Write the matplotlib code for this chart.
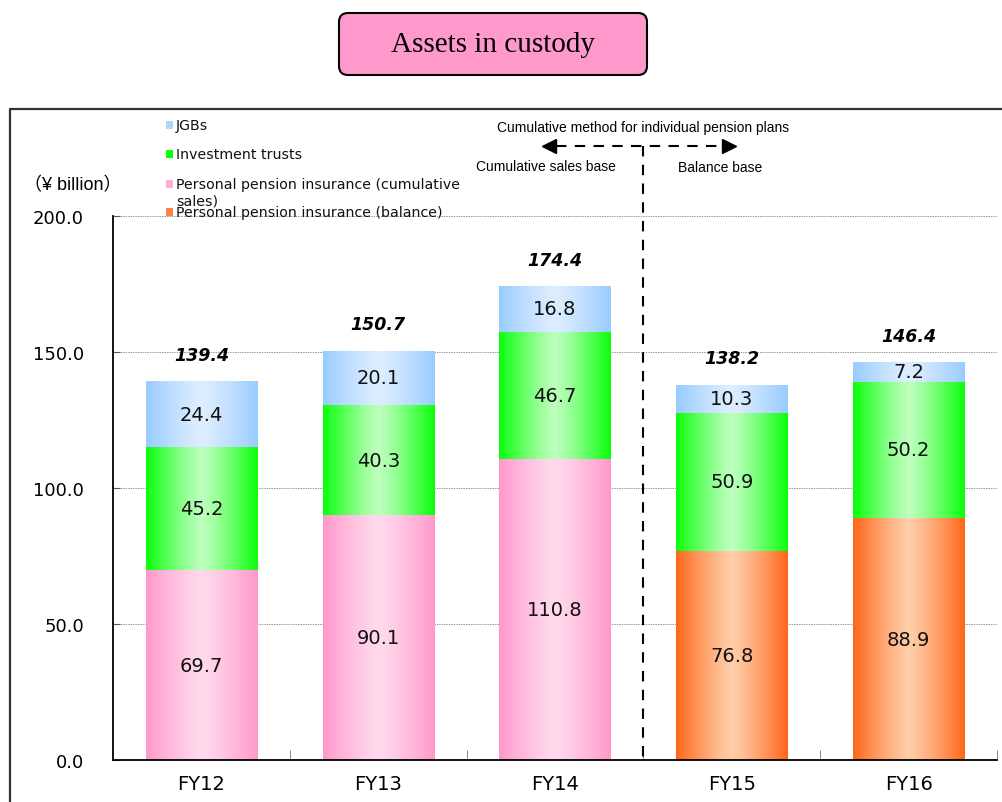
import numpy as np
import matplotlib
matplotlib.use("Agg")
import matplotlib.pyplot as plt
from matplotlib.patches import FancyBboxPatch, Rectangle
from matplotlib.lines import Line2D

# data (¥ billion)
years = ["FY12", "FY13", "FY14", "FY15", "FY16"]
pension_cum = [69.7, 90.1, 110.8, 0.0, 0.0]
pension_bal = [0.0, 0.0, 0.0, 76.8, 88.9]
inv_trusts = [45.2, 40.3, 46.7, 50.9, 50.2]
jgbs = [24.4, 20.1, 16.8, 10.3, 7.2]
totals = [139.4, 150.7, 174.4, 138.2, 146.4]

series_names = ["JGBs", "Investment trusts",
                "Personal pension insurance (cumulative\nsales)",
                "Personal pension insurance (balance)"]

# (edge colour, centre colour) for the horizontal gradient
C_BLUE = ((153, 204, 255), (222, 238, 255))
C_GREEN = ((10, 255, 10), (190, 255, 190))
C_PINK = ((255, 153, 204), (255, 218, 236))
C_ORANGE = ((255, 102, 25), (255, 206, 170))

fig = plt.figure(figsize=(10.02, 8.03), dpi=100)
W, H = 1002, 803
ax = fig.add_axes([113 / W, 1 - 761 / H, (997 - 113) / W, (761 - 217) / H])

x = np.arange(len(years))
bw = 0.63


def gradient_bar(patch, cols):
    edge = np.array(cols[0]) / 255
    centre = np.array(cols[1]) / 255
    x0, y0 = patch.get_xy()
    w, h = patch.get_width(), patch.get_height()
    if h <= 0:
        return
    t = np.linspace(0, 1, 256)
    prof = np.abs(2 * t - 1) ** 1.2
    rgb = centre + (edge - centre) * prof[:, None]
    im = ax.imshow(rgb[None, :, :], extent=(x0, x0 + w, y0, y0 + h),
                   aspect="auto", interpolation="bilinear", zorder=2)
    im.set_clip_path(patch)
    patch.set_facecolor("none")


bottom = np.zeros(len(years))
stack = [(pension_cum, C_PINK), (pension_bal, C_ORANGE),
         (inv_trusts, C_GREEN), (jgbs, C_BLUE)]
for vals, cols in stack:
    vals = np.array(vals)
    bars = ax.bar(x, vals, bw, bottom=bottom, linewidth=0, zorder=2)
    for b in bars:
        gradient_bar(b, cols)
    for xi, v, b0 in zip(x, vals, bottom):
        if v > 0:
            ax.text(xi, b0 + v / 2, f"{v:.1f}", ha="center", va="center",
                    fontsize=14, color="#111111", zorder=4)
    bottom = bottom + vals

for xi, top, tot in zip(x, bottom, totals):
    ax.annotate(f"{tot:.1f}", (xi, top), xytext=(0, 19),
                textcoords="offset points", ha="center", va="center",
                fontsize=12.5, fontweight="bold", fontstyle="italic", zorder=4)

ax.set_xlim(-0.5, len(years) - 0.5)
ax.set_ylim(0, 200)
ax.set_yticks(np.arange(0, 201, 50))
ax.set_yticklabels([f"{v:.1f}" for v in np.arange(0, 201, 50)], fontsize=13)
ax.tick_params(axis="y", direction="in", length=5, color="#555555", pad=21)
ax.set_xticks(x)
ax.set_xticklabels(years, fontsize=14)
ax.set_xticks(np.arange(0.5, len(years), 1.0), minor=True)
ax.tick_params(axis="x", which="major", length=0, pad=10)
ax.tick_params(axis="x", which="minor", direction="in", length=7,
               color="#777777")
ax.yaxis.grid(True, linestyle=(0, (1.5, 1)), color="#999999", linewidth=0.7)
ax.set_axisbelow(True)
for side in ("top", "right"):
    ax.spines[side].set_visible(False)
ax.spines["left"].set_linewidth(1.3)
ax.spines["bottom"].set_linewidth(1.3)

# overlay in pixel coordinates for frame, title and annotations
ov = fig.add_axes([0, 0, 1, 1])
ov.set_xlim(0, W)
ov.set_ylim(H, 0)
ov.axis("off")

ov.add_line(Line2D([10, 10, W + 5], [H + 10, 110, 110], color="#333333",
                   linewidth=1.6))

ov.add_patch(FancyBboxPatch((339, 14), 308, 62,
                            boxstyle="round,pad=0,rounding_size=9",
                            facecolor="#FF99CC", edgecolor="black",
                            linewidth=1.5))
ov.text(493, 45, "Assets in custody", ha="center", va="center",
        fontsize=21, family="Liberation Serif")

# legend
leg_cols = [C_BLUE, C_GREEN, C_PINK, C_ORANGE]
leg_y = [126, 155, 185, 213]
for name, cols, yy in zip(series_names, leg_cols, leg_y):
    e = np.array(cols[0]) / 255
    c = np.array(cols[1]) / 255
    sq = e if cols is C_GREEN else (e * 0.7 + c * 0.3)
    ov.add_patch(Rectangle((166, yy - 4), 7, 8, facecolor=sq, linewidth=0))
    ty = yy + 8.5 if "\n" in name else yy
    ov.text(176, ty, name, ha="left", va="center", fontsize=10.2,
            linespacing=1.2, color="#111111")

ov.text(73, 186, "（¥ billion）", ha="center", va="center", fontsize=13,
        family=["Liberation Sans", "Noto Sans CJK JP"])

# cumulative / balance divider
ov.add_line(Line2D([643, 643], [147, 761], color="black", linewidth=1.5,
                   linestyle=(0, (5, 4))))
ov.add_line(Line2D([556, 722], [147, 147], color="black", linewidth=1.5,
                   linestyle=(0, (5, 4))))
ov.plot([549], [147], marker="<", markersize=10, color="black")
ov.plot([729], [147], marker=">", markersize=10, color="black")
ov.text(643, 128, "Cumulative method for individual pension plans",
        ha="center", va="center", fontsize=10, family="Liberation Sans")
ov.text(546, 167, "Cumulative sales base", ha="center", va="center",
        fontsize=10, family="Liberation Sans")
ov.text(720, 168, "Balance base", ha="center", va="center",
        fontsize=10, family="Liberation Sans")

fig.savefig("out.png", dpi=100)
